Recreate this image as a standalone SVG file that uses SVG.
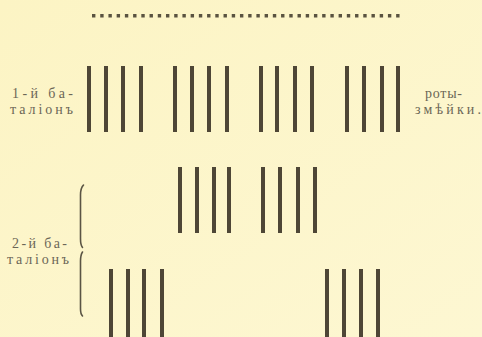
<svg xmlns="http://www.w3.org/2000/svg" width="482" height="337" viewBox="0 0 482 337">
<defs>
<linearGradient id="bg" x1="0" y1="0" x2="1" y2="1">
<stop offset="0" stop-color="#fcf4c4"/>
<stop offset="1" stop-color="#fdf7d2"/>
</linearGradient>
<style>
.bar{fill:#4e4636}
.lbl{font-family:"Liberation Serif","DejaVu Serif",serif;font-size:14px;fill:#6b6656}
.br{fill:none;stroke:#5a5444;stroke-width:1.6;stroke-linecap:round}
</style>
</defs>
<rect width="482" height="337" fill="url(#bg)"/>
<g id="dotted-line">
<line x1="92" y1="15.7" x2="400" y2="15.7" stroke="#5a5340" stroke-width="3.4" stroke-dasharray="3.4 4.82"/>
</g>
<g id="battalion1-label">
<text class="lbl" x="12" y="98" textLength="61" lengthAdjust="spacing">1-й ба-</text>
<text class="lbl" x="10" y="114" textLength="63" lengthAdjust="spacing">таліонъ</text>
</g>
<g id="roty-label">
<text class="lbl" x="425" y="98" textLength="37" lengthAdjust="spacing">роты-</text>
<text class="lbl" x="415" y="114" textLength="66" lengthAdjust="spacing">змѣйки.</text>
</g>
<g id="battalion2-label">
<text class="lbl" x="12" y="248" textLength="55" lengthAdjust="spacing">2-й ба-</text>
<text class="lbl" x="7" y="264" textLength="62" lengthAdjust="spacing">таліонъ</text>
</g>
<g id="brace">
<path class="br" d="M83.5,185 Q80.5,188 80.5,195 L80.5,239 Q80.5,245 82.5,247.5 M82.5,252 Q80.5,255 80.5,261 L80.5,309 Q80.5,314 82.5,316"/>
</g>
<g id="row1-company1">
<rect class="bar" x="87" y="66" width="4" height="66"/>
<rect class="bar" x="104" y="66" width="4" height="66"/>
<rect class="bar" x="121" y="66" width="4" height="66"/>
<rect class="bar" x="139" y="66" width="4" height="66"/>
</g>
<g id="row1-company2">
<rect class="bar" x="173" y="66" width="4" height="66"/>
<rect class="bar" x="190" y="66" width="4" height="66"/>
<rect class="bar" x="207" y="66" width="4" height="66"/>
<rect class="bar" x="225" y="66" width="4" height="66"/>
</g>
<g id="row1-company3">
<rect class="bar" x="259" y="66" width="4" height="66"/>
<rect class="bar" x="275" y="66" width="4" height="66"/>
<rect class="bar" x="293" y="66" width="4" height="66"/>
<rect class="bar" x="310" y="66" width="4" height="66"/>
</g>
<g id="row1-company4">
<rect class="bar" x="345" y="66" width="4" height="66"/>
<rect class="bar" x="362" y="66" width="4" height="66"/>
<rect class="bar" x="380" y="66" width="4" height="66"/>
<rect class="bar" x="396" y="66" width="4" height="66"/>
</g>
<g id="row2-company1">
<rect class="bar" x="178" y="167" width="4" height="66"/>
<rect class="bar" x="195" y="167" width="4" height="66"/>
<rect class="bar" x="212" y="167" width="4" height="66"/>
<rect class="bar" x="227" y="167" width="4" height="66"/>
</g>
<g id="row2-company2">
<rect class="bar" x="261" y="167" width="4" height="66"/>
<rect class="bar" x="278" y="167" width="4" height="66"/>
<rect class="bar" x="296" y="167" width="4" height="66"/>
<rect class="bar" x="313" y="167" width="4" height="66"/>
</g>
<g id="row3-company1">
<rect class="bar" x="109" y="269" width="4" height="70"/>
<rect class="bar" x="126" y="269" width="4" height="70"/>
<rect class="bar" x="142" y="269" width="4" height="70"/>
<rect class="bar" x="160" y="269" width="4" height="70"/>
</g>
<g id="row3-company2">
<rect class="bar" x="325" y="269" width="4" height="70"/>
<rect class="bar" x="342" y="269" width="4" height="70"/>
<rect class="bar" x="359" y="269" width="4" height="70"/>
<rect class="bar" x="376" y="269" width="4" height="70"/>
</g>
</svg>
